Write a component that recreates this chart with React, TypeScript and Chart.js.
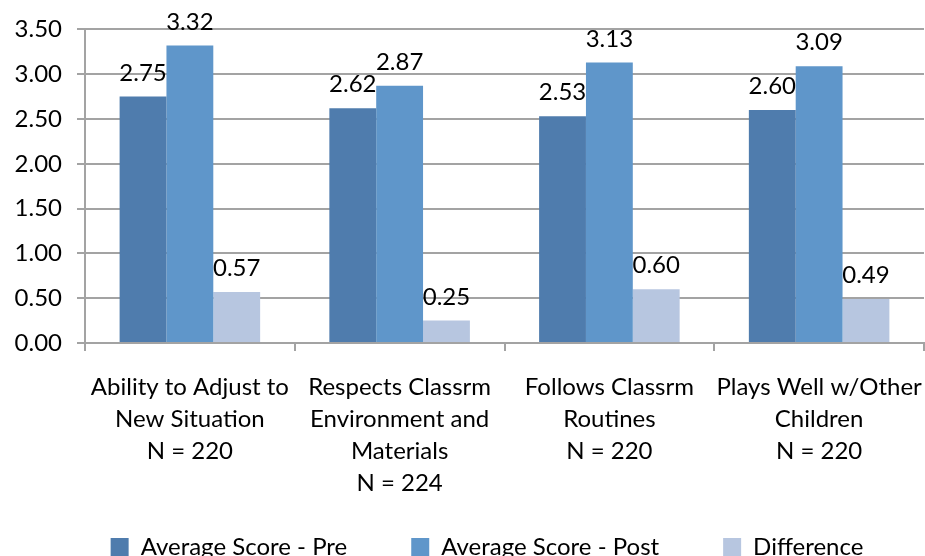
import React, { useEffect, useRef } from "react";
import { Chart, registerables } from "chart.js";

Chart.register(...registerables);

const categories: string[][] = [
  ["Ability to Adjust to", "New Situation", "N = 220"],
  ["Respects Classrm", "Environment and", "Materials", "N = 224"],
  ["Follows Classrm", "Routines", "N = 220"],
  ["Plays Well w/Other", "Children", "N = 220"],
];
const preScores = [2.75, 2.62, 2.53, 2.6];
const postScores = [3.32, 2.87, 3.13, 3.09];
const differences = [0.57, 0.25, 0.6, 0.49];
const yTicks = [0, 0.5, 1, 1.5, 2, 2.5, 3, 3.5];

const FONT = "Lato, 'Open Sans', sans-serif";

const valueLabels = {
  id: "valueLabels",
  afterDatasetsDraw(chart: any) {
    const ctx = chart.ctx;
    ctx.save();
    ctx.font = `24px ${FONT}`;
    ctx.fillStyle = "#000";
    ctx.textAlign = "center";
    ctx.textBaseline = "alphabetic";
    chart.data.datasets.forEach((ds: any, i: number) => {
      const meta = chart.getDatasetMeta(i);
      meta.data.forEach((bar: any, j: number) => {
        ctx.fillText(Number(ds.data[j]).toFixed(2), bar.x, bar.y - 16);
      });
    });
    ctx.restore();
  },
};

const legendShift = {
  id: "legendShift",
  afterLayout(chart: any) {
    const lg = chart.legend;
    if (lg) {
      lg.left += 25;
      lg.right += 25;
      lg.top -= 24;
      lg.bottom -= 24;
    }
  },
};

export default function App() {
  const ref = useRef<HTMLCanvasElement>(null);
  useEffect(() => {
    if (!ref.current) return;
    const chart = new Chart(ref.current, {
      type: "bar",
      data: {
        labels: categories,
        datasets: [
          { label: "Average Score - Pre", data: preScores, backgroundColor: "#4f7cad" },
          { label: "Average Score - Post", data: postScores, backgroundColor: "#5f96ca" },
          { label: "Difference", data: differences, backgroundColor: "#b7c6e0" },
        ],
      },
      options: {
        animation: false,
        responsive: true,
        maintainAspectRatio: false,
        layout: { padding: { top: 29, right: 1, left: 0, bottom: 0 } },
        datasets: { bar: { categoryPercentage: 0.67, barPercentage: 1.0 } },
        scales: {
          x: {
            afterFit: (scale: any) => {
              scale.height = 152;
              scale.paddingLeft = 0;
              scale.paddingRight = 0;
            },
            grid: { display: true, drawOnChartArea: false, drawTicks: true, tickLength: 8, color: "#a3a3a3", lineWidth: 2 },
            border: { color: "#a3a3a3", width: 2 },
            ticks: { color: "#000", font: { family: FONT, size: 24, lineHeight: 1.34 }, maxRotation: 0, autoSkip: false, padding: 20 },
          },
          y: {
            min: 0,
            max: 3.5,
            afterBuildTicks: (scale: any) => {
              scale.ticks = yTicks.map((v) => ({ value: v }));
            },
            afterFit: (scale: any) => {
              scale.width = 85;
            },
            grid: { color: "#a3a3a3", lineWidth: 2, tickLength: 8 },
            border: { color: "#a3a3a3", width: 2 },
            ticks: {
              color: "#000",
              font: { family: FONT, size: 24 },
              padding: 15,
              callback: (v: any) => Number(v).toFixed(2),
            },
          },
        },
        plugins: {
          tooltip: { enabled: false },
          legend: {
            position: "bottom",
            labels: {
              color: "#000",
              font: { family: FONT, size: 24 },
              boxWidth: 18,
              boxHeight: 18,
              padding: 64,
            },
          },
        },
      },
      plugins: [valueLabels, legendShift],
    });
    return () => chart.destroy();
  }, []);
  return (
    <div style={{ position: "fixed", left: 0, top: 0, width: 925, height: 556, overflow: "hidden", background: "#fff" }}>
      <div style={{ position: "relative", width: 925, height: 593 }}>
        <canvas ref={ref} />
      </div>
    </div>
  );
}
